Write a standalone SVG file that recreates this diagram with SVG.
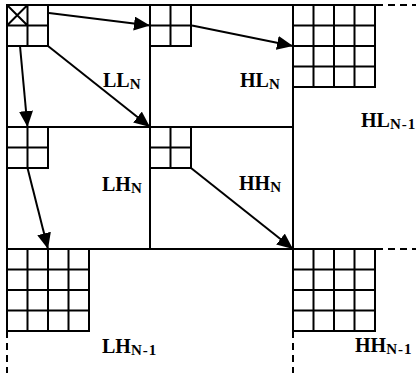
<svg xmlns="http://www.w3.org/2000/svg" width="416" height="373" viewBox="0 0 416 373">
<style>
.ln{stroke:#000;stroke-width:2;fill:none}
.ds{stroke:#000;stroke-width:2;fill:none;stroke-dasharray:7 5}
.gr{stroke:#000;stroke-width:2;fill:#fff}
.cn{stroke:#000;stroke-width:2;fill:none}
.lb{font-family:"Liberation Serif","Times New Roman",serif;font-weight:bold;font-size:20px;fill:#000}
.sb{font-size:15px}
</style>
<defs>
<marker id="ah" markerUnits="userSpaceOnUse" markerWidth="18" markerHeight="16" refX="16" refY="7" orient="auto">
<path d="M0,0 L16,7 L0,14 Z" fill="#000"/>
</marker>
</defs>
<rect width="416" height="373" fill="#fff"/>
<g id="frame">
<path class="ln" d="M7,5 H376 M7,5 V331 M293,5 V331 M7,249 H376 M150,5 V249 M7,127 H293"/>
<path class="ds" d="M376,5 H416 M376,249 H416 M7,331 V373 M293,331 V373"/>
</g>
<g id="ll-grid">
<rect class="gr" x="7" y="5" width="41" height="41"/>
<path class="ln" d="M27.5,5 V46 M7,25.5 H48 M7,5 L27.5,25.5 M27.5,5 L7,25.5"/>
</g>
<g id="hl-grid">
<rect class="gr" x="150" y="5" width="41" height="41"/>
<path class="ln" d="M170.5,5 V46 M150,25.5 H191"/>
</g>
<g id="lh-grid">
<rect class="gr" x="7" y="127" width="41" height="41"/>
<path class="ln" d="M27.5,127 V168 M7,147.5 H48"/>
</g>
<g id="hh-grid">
<rect class="gr" x="150" y="127" width="41" height="41"/>
<path class="ln" d="M170.5,127 V168 M150,147.5 H191"/>
</g>
<g id="hl1-grid">
<rect class="gr" x="293" y="5" width="82" height="82"/>
<path class="ln" d="M313.5,5 V87 M334,5 V87 M354.5,5 V87 M293,25.5 H375 M293,46 H375 M293,66.5 H375"/>
</g>
<g id="lh1-grid">
<rect class="gr" x="7" y="249" width="82" height="82"/>
<path class="ln" d="M27.5,249 V331 M48,249 V331 M68.5,249 V331 M7,269.5 H89 M7,290 H89 M7,310.5 H89"/>
</g>
<g id="hh1-grid">
<rect class="gr" x="293" y="249" width="82" height="82"/>
<path class="ln" d="M313.5,249 V331 M334,249 V331 M354.5,249 V331 M293,269.5 H375 M293,290 H375 M293,310.5 H375"/>
</g>
<g id="labels">
<g id="ll-n"><text class="lb" x="103" y="87">LL<tspan class="sb" dy="2">N</tspan></text></g>
<g id="hl-n"><text class="lb" x="240" y="87">HL<tspan class="sb" dy="2">N</tspan></text></g>
<g id="lh-n"><text class="lb" x="102" y="191">LH<tspan class="sb" dy="2">N</tspan></text></g>
<g id="hh-n"><text class="lb" x="239" y="190">HH<tspan class="sb" dy="2">N</tspan></text></g>
<g id="hl-n1"><text class="lb" x="361" y="127">HL<tspan class="sb" dy="2" letter-spacing="1">N-1</tspan></text></g>
<g id="lh-n1"><text class="lb" x="102" y="353">LH<tspan class="sb" dy="2" letter-spacing="1">N-1</tspan></text></g>
<g id="hh-n1"><text class="lb" x="355" y="352">HH<tspan class="sb" dy="2" letter-spacing="1">N-1</tspan></text></g>
</g>
<g id="connectors">
<line class="cn" x1="49" y1="13" x2="150" y2="25.5" marker-end="url(#ah)"/>
<line class="cn" x1="192" y1="25.5" x2="293" y2="46" marker-end="url(#ah)"/>
<line class="cn" x1="48" y1="46" x2="150" y2="127" marker-end="url(#ah)"/>
<line class="cn" x1="20" y1="46" x2="27.5" y2="127" marker-end="url(#ah)"/>
<line class="cn" x1="27.5" y1="168" x2="48" y2="249" marker-end="url(#ah)"/>
<line class="cn" x1="191" y1="168" x2="293" y2="249" marker-end="url(#ah)"/>
</g>
</svg>
